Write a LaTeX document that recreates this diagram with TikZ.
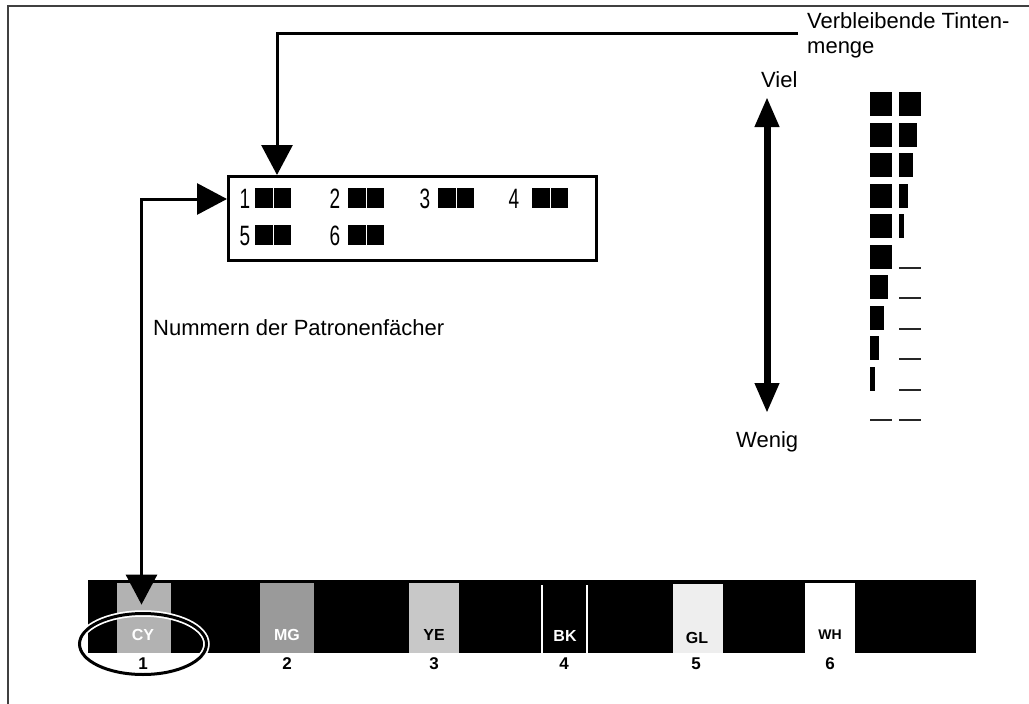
\documentclass[tikz,border=0pt]{standalone}
\usepackage{fontspec}
\usepackage{graphicx}
\setmainfont{Liberation Sans}
\usetikzlibrary{arrows.meta,shapes.geometric,calc}
\begin{document}
\begin{tikzpicture}[x=1pt,y=-1pt,
  conn/.style={line width=3pt, >={Triangle[length=30pt,width=31pt]}},
  dbl/.style={line width=7pt, >={Triangle[length=30pt,width=23pt]}, <->},
  lbl/.style={font=\fontsize{22}{25}\selectfont, inner sep=0pt},
  dig/.style={font=\fontsize{28}{28}\selectfont, inner sep=0pt, anchor=base},
  patch/.style={inner sep=0pt, minimum height=70, anchor=south, draw=none},
  plab/.style={font=\fontsize{16}{16}\selectfont\bfseries, inner sep=0pt},
  num/.style={font=\fontsize{17}{17}\selectfont\bfseries, inner sep=0pt},
  emptybar/.style={draw=black!85, line width=2pt}
]
\useasboundingbox (0,0) rectangle (1029,704);
% frame
\draw[black!75, line width=2pt] (7.5,704) -- (7.5,5.5) -- (1029,5.5);

% display box
\node[draw, line width=3pt, minimum width=368, minimum height=84, inner sep=0pt] (box) at (412.5,218.5) {};
\newcommand\nd[1]{\scalebox{0.68}[1]{#1}}
\node[dig] (d1) at (245,208) {\nd{1}};
\node[dig] (d2) at (335,208) {\nd{2}};
\node[dig] (d3) at (425,208) {\nd{3}};
\node[dig] (d4) at (514,208) {\nd{4}};
\node[dig] (d5) at (245,245) {\nd{5}};
\node[dig] (d6) at (335,245) {\nd{6}};
\foreach \bx/\by in {255/188,348/188,438/188,532/188,255/225,348/225}{
  \fill (\bx,\by) rectangle ++(17.5,20);
  \fill (\bx+18.5,\by) rectangle ++(17.5,20);
}

% texts
\node[lbl, anchor=base west] (vt1) at (807,28.3) {Verbleibende Tinten-};
\node[lbl, anchor=base west] (vt2) at (807,53) {menge};
\node[lbl, anchor=base west] (viel) at (761,87) {Viel};
\node[lbl, anchor=base west] (wenig) at (736,447) {Wenig};
\node[lbl, anchor=base west] (num) at (153,335) {Nummern der Patronenfächer};

% double arrow
\coordinate (up) at (767,97);
\coordinate (dn) at (767,413);
\draw[dbl] (up) -- (dn);

% ink level icons
\foreach \k/\lw/\rw in {0/22/22,1/22/18,2/22/14,3/22/9,4/22/5,5/22/0,6/18/0,7/14/0,8/9/0,9/5/0,10/0/0}{
  \pgfmathsetmacro\ty{92+30.5*\k}
  \ifdim\lw pt>0pt \fill (870,\ty) rectangle ++(\lw,24);
  \else \draw[emptybar] (870,\ty+23) -- ++(22,0); \fi
  \ifdim\rw pt>0pt \fill (899,\ty) rectangle ++(\rw,24);
  \else \draw[emptybar] (899,\ty+23) -- ++(22,0); \fi
}

% cartridge bar
\node[fill=black, inner sep=0pt, minimum width=888, minimum height=73, anchor=north west] (bar) at (88,580) {};
\node[patch, fill={rgb,255:red,178;green,178;blue,178}, minimum width=54] (cy) at (144,653) {};
\node[patch, fill={rgb,255:red,154;green,154;blue,154}, minimum width=54] (mg) at (287,653) {};
\node[patch, fill={rgb,255:red,200;green,200;blue,200}, minimum width=50] (ye) at (434,653) {};
\node[patch, fill={rgb,255:red,238;green,238;blue,238}, minimum width=50, minimum height=69] (gl) at (698,653) {};
\node[patch, fill=white, minimum width=50] (wh) at (830,653) {};
\draw[white, line width=1.3pt] (542,585) -- (542,653);
\draw[white, line width=1.3pt] (587,585) -- (587,653);

\node[plab, text=white] (tcy) at (143,635) {CY};
\node[plab, text=white] (tmg) at (287,635) {MG};
\node[plab, text=black] (tye) at (434,635) {YE};
\node[plab, text=white] (tbk) at (565,636) {BK};
\node[plab, text=black] (tgl) at (697,638) {GL};
\node[plab, text=black, font=\fontsize{14}{14}\selectfont\bfseries] (twh) at (830,635) {WH};

\node[num] (n1) at (143,664) {1};
\node[num] (n2) at (287,664) {2};
\node[num] (n3) at (434,664) {3};
\node[num] (n4) at (564,664) {4};
\node[num] (n5) at (696,664) {5};
\node[num] (n6) at (830,664) {6};

% ring
\node[ellipse, minimum width=127, minimum height=61, inner sep=0pt, draw=black, line width=3pt,
  preaction={draw=white, line width=6.5pt}] (ring) at (143,644) {};

% connectors
\coordinate (c1) at (798,33.5);
\draw[conn,->] (c1) -| ($(box.north west)+(50,0)$);
\coordinate (cytip) at ($(cy.north)+(-2.5,22)$);
\draw[conn,<->] (cytip) |- ($(box.north west)+(0,24)$);
\end{tikzpicture}
\end{document}
